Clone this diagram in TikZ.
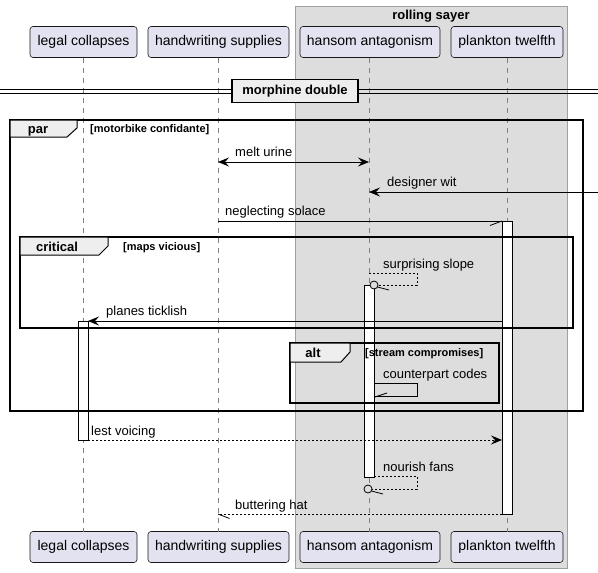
\documentclass[tikz,border=0pt]{standalone}
\usepackage{fontspec}
\setmainfont{Liberation Sans}
\usetikzlibrary{arrows.meta}
\definecolor{partfill}{HTML}{E2E2F0}
\definecolor{partline}{HTML}{181818}
\definecolor{boxfill}{HTML}{DDDDDD}
\definecolor{boxline}{HTML}{A0A0A0}
\definecolor{tabfill}{HTML}{EEEEEE}
\definecolor{lifegray}{HTML}{808080}
\begin{document}
\begin{tikzpicture}[x=1pt,y=-1pt,
  participant/.style={draw=partline, fill=partfill, rounded corners=3pt,
    line width=0.6pt, minimum height=31pt, inner xsep=2pt,
    font=\fontsize{14}{16}\selectfont},
  lifeline/.style={draw=lifegray, line width=0.7pt, dash pattern=on 5pt off 5pt},
  activation/.style={draw=black, fill=white, line width=0.8pt},
  msg/.style={draw=black, line width=0.8pt},
  reply/.style={msg, dash pattern=on 2pt off 2pt},
  tip/.style={-{Stealth[length=11pt,width=9pt,inset=4pt]}},
  bothtips/.style={{Stealth[length=11pt,width=9pt,inset=4pt]}-{Stealth[length=11pt,width=9pt,inset=4pt]}},
  halftip/.style={draw=black, line width=0.8pt},
  lostcircle/.style={draw=black, line width=0.8pt, fill=boxfill},
  msglabel/.style={font=\fontsize{13}{15}\selectfont, anchor=base west, inner sep=0pt},
  frameline/.style={draw=black, line width=1.5pt},
  tabshape/.style={draw=black, line width=1pt, fill=tabfill},
  tabtitle/.style={font=\bfseries\fontsize{13}{15}\selectfont, anchor=base, inner sep=0pt},
  guard/.style={font=\bfseries\fontsize{11}{13}\selectfont, anchor=base west, inner sep=0pt},
]
\useasboundingbox (0,0) rectangle (598,573);

% grouping box around the last two participants
\node[draw=boxline, fill=boxfill, line width=0.8pt, minimum width=272pt,
  minimum height=562pt, anchor=north west, inner sep=0pt] (sayer) at (295,6) {};
\node[font=\bfseries\fontsize{13}{15}\selectfont, anchor=base, inner sep=0pt]
  (sayertitle) at (431,19) {rolling sayer};

% participants, head and foot
\node[participant, minimum width=107pt] (lc) at (83.5,42) {legal collapses};
\node[participant, minimum width=141pt] (hw) at (218.5,42) {handwriting supplies};
\node[participant, minimum width=140pt] (ha) at (370,42) {hansom antagonism};
\node[participant, minimum width=112pt] (pt) at (507,42) {plankton twelfth};
\node[participant, minimum width=107pt] (lcf) at (83.5,547) {legal collapses};
\node[participant, minimum width=141pt] (hwf) at (218.5,547) {handwriting supplies};
\node[participant, minimum width=140pt] (haf) at (370,547) {hansom antagonism};
\node[participant, minimum width=112pt] (ptf) at (507,547) {plankton twelfth};

% lifelines
\coordinate (lcT) at (83,57.5);  \coordinate (lcB) at (83,531.5);
\coordinate (hwT) at (218,57.5); \coordinate (hwB) at (218,531.5);
\coordinate (haT) at (369,57.5); \coordinate (haB) at (369,531.5);
\coordinate (ptT) at (507,57.5); \coordinate (ptB) at (507,531.5);
\draw[lifeline] (lcT) -- (lcB);
\draw[lifeline] (hwT) -- (hwB);
\draw[lifeline] (haT) -- (haB);
\draw[lifeline] (ptT) -- (ptB);

% divider
\coordinate (dvL1) at (0,89);  \coordinate (dvR1) at (598,89);
\coordinate (dvL2) at (0,93);  \coordinate (dvR2) at (598,93);
\draw[line width=1pt] (dvL1) -- (dvR1);
\draw[line width=1pt] (dvL2) -- (dvR2);
\node[draw=black, line width=1.5pt, fill=tabfill, minimum width=126pt,
  minimum height=23pt, inner sep=0pt, font=\bfseries\fontsize{13}{15}\selectfont]
  (divider) at (295,91) {morphine double};

% activation bars
\node[activation, minimum width=10pt, minimum height=293pt, inner sep=0pt,
  anchor=north west] (actpt) at (502,221) {};
\node[activation, minimum width=10pt, minimum height=192pt, inner sep=0pt,
  anchor=north west] (actha) at (364,285) {};
\node[activation, minimum width=10pt, minimum height=119pt, inner sep=0pt,
  anchor=north west] (actlc) at (78,321) {};

% par frame
\draw[frameline] (10,120) rectangle (583,411);
\draw[tabshape] (10,120) -- (77,120) -- (77,128) -- (67,137) -- (10,137) -- cycle;
\node[tabtitle] (partitle) at (38,133) {par};
\node[guard] (parguard) at (90,132) {[motorbike confidante]};

% critical frame
\draw[frameline] (20,237) rectangle (573,328);
\draw[tabshape] (20,237) -- (108,237) -- (108,246) -- (99,255) -- (20,255) -- cycle;
\node[tabtitle] (crittitle) at (57,251) {critical};
\node[guard] (critguard) at (123,250) {[maps vicious]};

% alt frame
\draw[frameline] (290,343) rectangle (499,403);
\draw[tabshape] (290,343) -- (350,343) -- (350,352) -- (341,362) -- (290,362) -- cycle;
\node[tabtitle] (alttitle) at (313,357) {alt};
\node[guard] (altguard) at (365,356) {[stream compromises]};

% melt urine
\coordinate (m1a) at (218,162); \coordinate (m1b) at (369,162);
\draw[msg, bothtips] (m1a) -- (m1b);
\node[msglabel] (m1l) at (235,156.5) {melt urine};

% designer wit (from outside)
\coordinate (m2a) at (598,192); \coordinate (m2b) at (369,192);
\draw[msg, tip] (m2a) -- (m2b);
\node[msglabel] (m2l) at (387,186.5) {designer wit};

% neglecting solace
\coordinate (m3a) at (218,221); \coordinate (m3b) at (502,221);
\draw[msg] (m3a) -- (m3b);
\draw[halftip] (m3b) -- ++(-12,4.5);
\node[msglabel] (m3l) at (225,215.5) {neglecting solace};

% surprising slope (self, lost end)
\coordinate (m4a) at (369,273); \coordinate (m4c) at (374,285);
\draw[reply] (m4a) -- (417,273) -- (417,285) -- (378,285);
\draw[lostcircle] (m4c) circle (4pt);
\draw[halftip] (377.5,287) -- ++(11.5,3);
\node[msglabel] (m4l) at (383,268) {surprising slope};

% planes ticklish
\coordinate (m5a) at (502,321); \coordinate (m5b) at (88,321);
\draw[msg, tip] (m5a) -- (m5b);
\node[msglabel] (m5l) at (106,315.5) {planes ticklish};

% counterpart codes (self)
\coordinate (m6a) at (374,383); \coordinate (m6b) at (374,396);
\draw[msg] (m6a) -- (417,383) -- (417,396) -- (m6b);
\draw[halftip] (375,397) -- ++(12,-4);
\node[msglabel] (m6l) at (383,378) {counterpart codes};

% lest voicing
\coordinate (m7a) at (88,440); \coordinate (m7b) at (502,440);
\draw[reply, tip] (m7a) -- (m7b);
\node[msglabel] (m7l) at (91,435) {lest voicing};

% nourish fans (self, lost end)
\coordinate (m8a) at (374,476); \coordinate (m8c) at (368,489);
\draw[reply] (m8a) -- (417,476) -- (417,489) -- (372,489);
\draw[lostcircle] (m8c) circle (4pt);
\draw[halftip] (371.5,491) -- ++(11.5,3);
\node[msglabel] (m8l) at (383,471) {nourish fans};

% buttering hat
\coordinate (m9a) at (502,514); \coordinate (m9b) at (218,514);
\draw[reply] (m9a) -- (m9b);
\draw[halftip] (m9b) -- ++(11.5,4.5);
\node[msglabel] (m9l) at (235,509) {buttering hat};
\end{tikzpicture}
\end{document}
